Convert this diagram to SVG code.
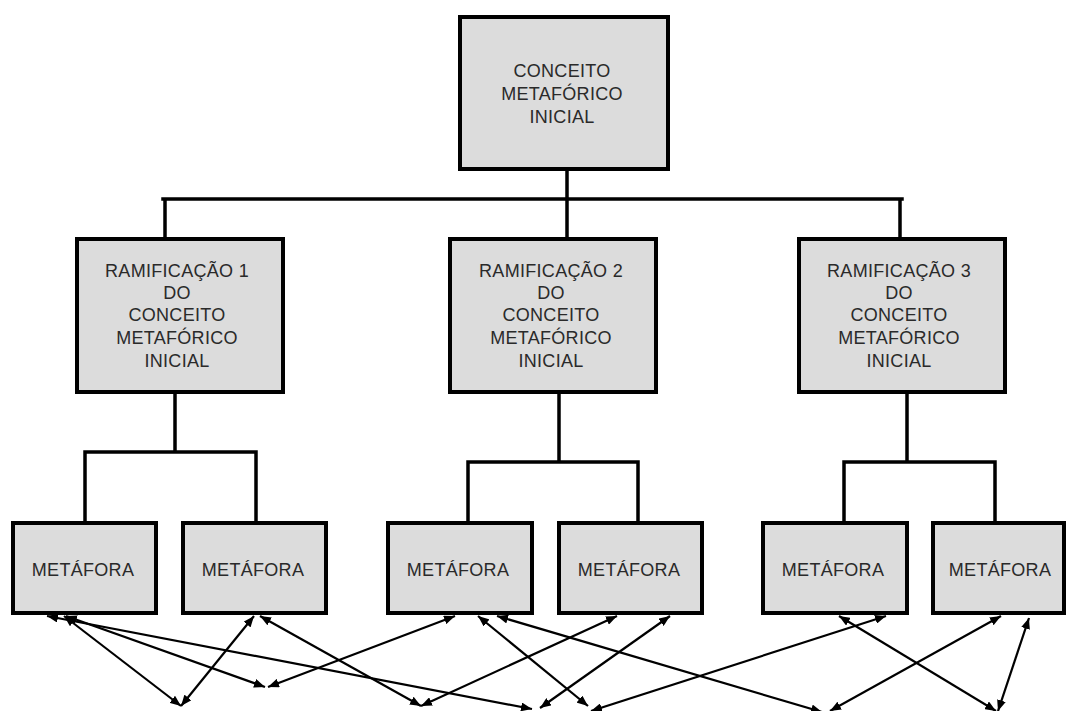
<svg xmlns="http://www.w3.org/2000/svg" width="1067" height="711" viewBox="0 0 1067 711">
<style>
.box{fill:#dcdcdc;stroke:#000;stroke-width:4}
.t{font-family:"Liberation Sans",Arial,sans-serif;font-size:18px;fill:#2a2a2a;text-anchor:middle;letter-spacing:0.3px}
.tree{fill:none;stroke:#000;stroke-width:3.5;stroke-linecap:square}
.arr{fill:none;stroke:#000;stroke-width:2.2;marker-start:url(#ah);marker-end:url(#ah)}
</style>
<defs>
<marker id="ah" markerUnits="userSpaceOnUse" viewBox="0 0 11 9" refX="11" refY="4.5" markerWidth="11" markerHeight="9" orient="auto-start-reverse">
<path d="M0,0 L11,4.5 L0,9 z" fill="#000"/>
</marker>
</defs>
<rect width="1067" height="711" fill="#fff"/>
<g id="connectors">
<path class="tree" d="M567,169 V199 M163,199 H902 M165,199 V239 M567,199 V239 M900,199 V239"/>
<path class="tree" d="M175,392 V452 M85,452 H256 M85,452 V523 M256,452 V523"/>
<path class="tree" d="M559,392 V462 M468,462 H638 M468,462 V523 M638,462 V523"/>
<path class="tree" d="M907,392 V462 M844,462 H995 M844,462 V523 M995,462 V523"/>
<line class="arr" x1="64" y1="616" x2="181" y2="706"/>
<line class="arr" x1="66" y1="616" x2="265" y2="687"/>
<line class="arr" x1="47" y1="616" x2="532" y2="709"/>
<line class="arr" x1="254" y1="616" x2="181" y2="706"/>
<line class="arr" x1="260" y1="616" x2="421" y2="706"/>
<line class="arr" x1="455" y1="616" x2="268" y2="687"/>
<line class="arr" x1="478" y1="616" x2="588" y2="706"/>
<line class="arr" x1="497" y1="616" x2="822" y2="712"/>
<line class="arr" x1="617" y1="616" x2="421" y2="706"/>
<line class="arr" x1="670" y1="616" x2="540" y2="708"/>
<line class="arr" x1="839" y1="616" x2="996" y2="711"/>
<line class="arr" x1="886" y1="616" x2="591" y2="711"/>
<line class="arr" x1="1001" y1="616" x2="830" y2="711"/>
<line class="arr" x1="1029" y1="618" x2="998" y2="711"/>
</g>
<g id="root">
<rect class="box" x="460" y="17" width="208" height="152"/>
<text class="t" x="562" y="77">CONCEITO</text>
<text class="t" x="562" y="100">METAFÓRICO</text>
<text class="t" x="562" y="123">INICIAL</text>
</g>
<g id="ram1">
<rect class="box" x="77" y="239" width="206" height="153"/>
<text class="t" x="177" y="277">RAMIFICAÇÃO 1</text>
<text class="t" x="177" y="299">DO</text>
<text class="t" x="177" y="321">CONCEITO</text>
<text class="t" x="177" y="344">METAFÓRICO</text>
<text class="t" x="177" y="367">INICIAL</text>
</g>
<g id="ram2">
<rect class="box" x="450" y="239" width="206" height="153"/>
<text class="t" x="551" y="277">RAMIFICAÇÃO 2</text>
<text class="t" x="551" y="299">DO</text>
<text class="t" x="551" y="321">CONCEITO</text>
<text class="t" x="551" y="344">METAFÓRICO</text>
<text class="t" x="551" y="367">INICIAL</text>
</g>
<g id="ram3">
<rect class="box" x="799" y="239" width="206" height="153"/>
<text class="t" x="899" y="277">RAMIFICAÇÃO 3</text>
<text class="t" x="899" y="299">DO</text>
<text class="t" x="899" y="321">CONCEITO</text>
<text class="t" x="899" y="344">METAFÓRICO</text>
<text class="t" x="899" y="367">INICIAL</text>
</g>
<g id="met1"><rect class="box" x="13" y="523" width="143" height="90"/><text class="t" x="83" y="576">METÁFORA</text></g>
<g id="met2"><rect class="box" x="183" y="523" width="143" height="90"/><text class="t" x="253" y="576">METÁFORA</text></g>
<g id="met3"><rect class="box" x="388" y="523" width="144" height="90"/><text class="t" x="458" y="576">METÁFORA</text></g>
<g id="met4"><rect class="box" x="559" y="523" width="143" height="90"/><text class="t" x="629" y="576">METÁFORA</text></g>
<g id="met5"><rect class="box" x="763" y="523" width="144" height="90"/><text class="t" x="833" y="576">METÁFORA</text></g>
<g id="met6"><rect class="box" x="933" y="523" width="131" height="90"/><text class="t" x="1000" y="576">METÁFORA</text></g>
</svg>
